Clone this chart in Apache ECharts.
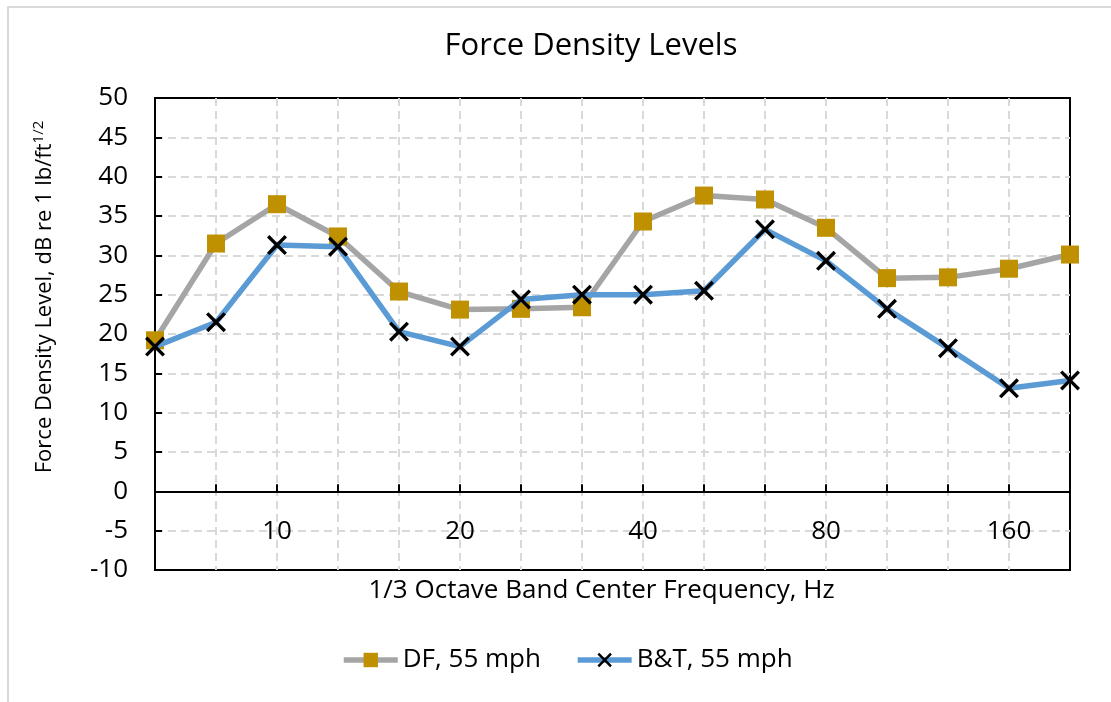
<!DOCTYPE html>
<html>
<head>
<meta charset="utf-8">
<script src="https://cdn.jsdelivr.net/npm/echarts@6/dist/echarts.min.js"></script>
<style>
html,body{margin:0;padding:0;background:#fff;}
#frame{position:absolute;left:7px;top:6px;width:1120px;height:720px;border:2px solid #d9d9d9;box-sizing:border-box;}
#chart{position:absolute;left:0;top:0;width:1111px;height:702px;}
</style>
</head>
<body>
<div id="frame"></div>
<div id="chart"></div>
<script>
const categories = ['6.3','8','10','12.5','16','20','25','31.5','40','50','63','80','100','125','160','200'];
const shownLabels = ['10','20','40','80','160'];
const dfValues = [19.2,31.5,36.5,32.4,25.4,23.1,23.2,23.4,34.3,37.6,37.1,33.5,27.1,27.2,28.3,30.1];
const btValues = [18.4,21.5,31.3,31.1,20.3,18.4,24.4,25.0,25.0,25.5,33.3,29.3,23.2,18.2,13.1,14.1];
const seriesNames = ['DF, 55 mph','B&T, 55 mph'];
const yMin = -10, yMax = 50, yStep = 5;

const FONT = 'Open Sans';
const chart = echarts.init(document.getElementById('chart'), null, {renderer:'canvas'});
const crossPath = 'path://M0,1.2 L1.2,0 L5,3.8 L8.8,0 L10,1.2 L6.2,5 L10,8.8 L8.8,10 L5,6.2 L1.2,10 L0,8.8 L3.8,5 Z';
const gridLine = {color:'#d9d9d9',width:2,type:[8,5]};
chart.setOption({
  animation:false,
  backgroundColor:'transparent',
  title:{
    text:'Force Density Levels',
    left:586, top:26, textAlign:'center',
    textStyle:{fontFamily:FONT,fontSize:31,fontWeight:'normal',color:'#000'}
  },
  legend:{
    bottom:24, left:336,
    itemWidth:54, itemHeight:18, itemGap:34,
    lineStyle:{width:5.5},
    textStyle:{fontFamily:FONT,fontSize:26,color:'#000'},
    data:seriesNames
  },
  grid:{left:155,right:41,top:98,bottom:132,show:true,borderColor:'#000',borderWidth:2,backgroundColor:'transparent'},
  xAxis:[{
    type:'category', data:categories, boundaryGap:false,
    axisLine:{onZero:false,lineStyle:{color:'#000',width:2}},
    axisTick:{show:true,inside:true,length:7,interval:0,lineStyle:{color:'#000',width:2}},
    axisLabel:{interval:0,margin:27,fontFamily:FONT,fontSize:26,color:'#000',
      formatter:function(v){return shownLabels.indexOf(v)>=0?v:'';}},
    splitLine:{show:true,interval:0,showMinLine:false,showMaxLine:false,lineStyle:gridLine}
  },{
    type:'category', data:categories, boundaryGap:false, position:'bottom',
    name:'1/3 Octave Band Center Frequency, Hz', nameLocation:'middle', nameGap:8,
    nameTextStyle:{fontFamily:FONT,fontSize:26,color:'#000',padding:[0,22,0,0]},
    axisLine:{show:false}, axisTick:{show:false}, axisLabel:{show:false}, splitLine:{show:false}
  }],
  yAxis:{
    type:'value', min:yMin, max:yMax, interval:yStep,
    name:'{a|Force Density Level, dB re 1 lb/ft}{s|1/2}', nameLocation:'middle', nameGap:97,
    nameTextStyle:{padding:[0,0,0,74],rich:{a:{fontFamily:FONT,fontSize:22,color:'#000'},s:{fontFamily:FONT,fontSize:15,color:'#000',verticalAlign:'top',padding:[0,0,12,0]}}},
    axisLine:{show:true,lineStyle:{color:'#000',width:2}},
    axisTick:{show:true,inside:true,length:7,lineStyle:{color:'#000',width:2}},
    axisLabel:{margin:27,fontFamily:FONT,fontSize:26,color:'#000'},
    splitLine:{show:true,showMinLine:false,showMaxLine:false,lineStyle:gridLine}
  },
  series:[
    {name:seriesNames[0],type:'line',data:dfValues,
     symbol:'rect',symbolSize:18,
     lineStyle:{color:'#a5a5a5',width:5.5},
     itemStyle:{color:'#bf9000'},z:2},
    {name:seriesNames[1],type:'line',data:btValues,
     symbol:crossPath,symbolSize:20,
     lineStyle:{color:'#5b9bd5',width:5.5},
     itemStyle:{color:'#000'},z:3}
  ]
});
// move the category axis up so that it sits on y = 0 (position from the y scale)
const zeroPx = chart.convertToPixel({yAxisIndex:0}, 0);
const bottomPx = chart.convertToPixel({yAxisIndex:0}, yMin);
chart.setOption({xAxis:[{offset:-(bottomPx-zeroPx)},{}]});
</script>
</body>
</html>
